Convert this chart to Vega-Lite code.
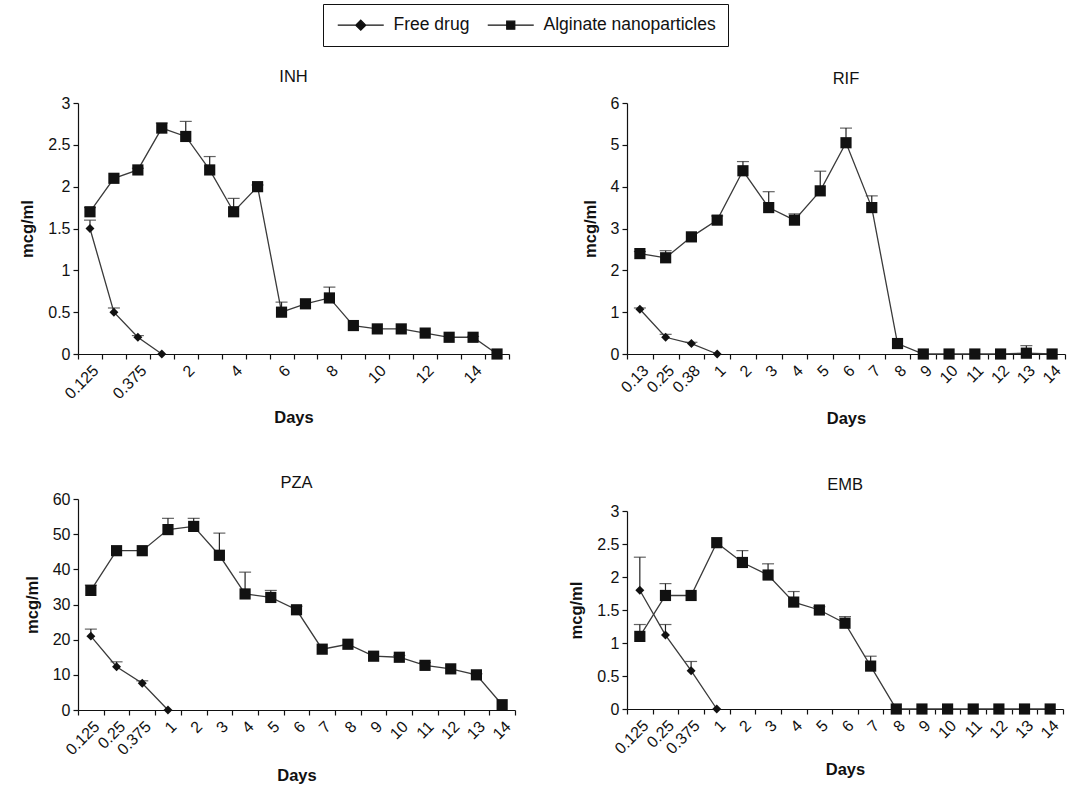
{
  "$schema": "https://vega.github.io/schema/vega-lite/v6.json",
  "background": "white",
  "padding": {"left": 19, "top": 3, "right": 5, "bottom": 5},
  "config": {
    "view": {"stroke": null},
    "font": "Liberation Sans",
    "axis": {"grid": false, "domainColor": "#111", "tickColor": "#111", "labelColor": "#111", "titleColor": "#111", "labelFont": "Liberation Sans", "labelFontSize": 16, "titleFont": "Liberation Sans", "titleFontSize": 16.5, "titleFontWeight": "bold", "tickSize": 5, "labelPadding": 3, "domainWidth": 1.2, "tickWidth": 1.2},
    "title": {"font": "Liberation Sans", "fontSize": 16.5, "fontWeight": "normal", "color": "#111", "anchor": "middle"},
    "legend": {"labelFont": "Liberation Sans", "labelFontSize": 17.5, "labelColor": "#111", "labelLimit": 400}
  },
  "data": {"values": [
    {"drug":"INH","group":"Alginate nanoparticles","day":"0.125","v":1.7,"hi":1.75},
    {"drug":"INH","group":"Alginate nanoparticles","day":"0.25","v":2.1,"hi":null},
    {"drug":"INH","group":"Alginate nanoparticles","day":"0.375","v":2.2,"hi":2.22},
    {"drug":"INH","group":"Alginate nanoparticles","day":"1","v":2.7,"hi":2.76},
    {"drug":"INH","group":"Alginate nanoparticles","day":"2","v":2.6,"hi":2.78},
    {"drug":"INH","group":"Alginate nanoparticles","day":"3","v":2.2,"hi":2.36},
    {"drug":"INH","group":"Alginate nanoparticles","day":"4","v":1.7,"hi":1.86},
    {"drug":"INH","group":"Alginate nanoparticles","day":"5","v":2.0,"hi":2.02},
    {"drug":"INH","group":"Alginate nanoparticles","day":"6","v":0.5,"hi":0.62},
    {"drug":"INH","group":"Alginate nanoparticles","day":"7","v":0.6,"hi":null},
    {"drug":"INH","group":"Alginate nanoparticles","day":"8","v":0.67,"hi":0.8},
    {"drug":"INH","group":"Alginate nanoparticles","day":"9","v":0.34,"hi":null},
    {"drug":"INH","group":"Alginate nanoparticles","day":"10","v":0.3,"hi":null},
    {"drug":"INH","group":"Alginate nanoparticles","day":"11","v":0.3,"hi":null},
    {"drug":"INH","group":"Alginate nanoparticles","day":"12","v":0.25,"hi":null},
    {"drug":"INH","group":"Alginate nanoparticles","day":"13","v":0.2,"hi":null},
    {"drug":"INH","group":"Alginate nanoparticles","day":"14","v":0.2,"hi":0.21},
    {"drug":"INH","group":"Alginate nanoparticles","day":"15","v":0.0,"hi":null},
    {"drug":"INH","group":"Free drug","day":"0.125","v":1.5,"hi":1.6},
    {"drug":"INH","group":"Free drug","day":"0.25","v":0.5,"hi":0.55},
    {"drug":"INH","group":"Free drug","day":"0.375","v":0.2,"hi":0.22},
    {"drug":"INH","group":"Free drug","day":"1","v":0.0,"hi":null},

    {"drug":"RIF","group":"Alginate nanoparticles","day":"0.13","v":2.4,"hi":2.45},
    {"drug":"RIF","group":"Alginate nanoparticles","day":"0.25","v":2.3,"hi":2.47},
    {"drug":"RIF","group":"Alginate nanoparticles","day":"0.38","v":2.8,"hi":null},
    {"drug":"RIF","group":"Alginate nanoparticles","day":"1","v":3.2,"hi":3.3},
    {"drug":"RIF","group":"Alginate nanoparticles","day":"2","v":4.38,"hi":4.6},
    {"drug":"RIF","group":"Alginate nanoparticles","day":"3","v":3.5,"hi":3.88},
    {"drug":"RIF","group":"Alginate nanoparticles","day":"4","v":3.2,"hi":3.35},
    {"drug":"RIF","group":"Alginate nanoparticles","day":"5","v":3.9,"hi":4.37},
    {"drug":"RIF","group":"Alginate nanoparticles","day":"6","v":5.05,"hi":5.4},
    {"drug":"RIF","group":"Alginate nanoparticles","day":"7","v":3.5,"hi":3.78},
    {"drug":"RIF","group":"Alginate nanoparticles","day":"8","v":0.25,"hi":null},
    {"drug":"RIF","group":"Alginate nanoparticles","day":"9","v":0.0,"hi":null},
    {"drug":"RIF","group":"Alginate nanoparticles","day":"10","v":0.0,"hi":null},
    {"drug":"RIF","group":"Alginate nanoparticles","day":"11","v":0.0,"hi":null},
    {"drug":"RIF","group":"Alginate nanoparticles","day":"12","v":0.0,"hi":null},
    {"drug":"RIF","group":"Alginate nanoparticles","day":"13","v":0.02,"hi":0.2},
    {"drug":"RIF","group":"Alginate nanoparticles","day":"14","v":0.0,"hi":null},
    {"drug":"RIF","group":"Free drug","day":"0.13","v":1.07,"hi":1.1},
    {"drug":"RIF","group":"Free drug","day":"0.25","v":0.4,"hi":0.47},
    {"drug":"RIF","group":"Free drug","day":"0.38","v":0.25,"hi":0.28},
    {"drug":"RIF","group":"Free drug","day":"1","v":0.0,"hi":null},

    {"drug":"PZA","group":"Alginate nanoparticles","day":"0.125","v":34,"hi":35.5},
    {"drug":"PZA","group":"Alginate nanoparticles","day":"0.25","v":45.3,"hi":null},
    {"drug":"PZA","group":"Alginate nanoparticles","day":"0.375","v":45.3,"hi":null},
    {"drug":"PZA","group":"Alginate nanoparticles","day":"1","v":51.3,"hi":54.5},
    {"drug":"PZA","group":"Alginate nanoparticles","day":"2","v":52.2,"hi":54.5},
    {"drug":"PZA","group":"Alginate nanoparticles","day":"3","v":44,"hi":50.3},
    {"drug":"PZA","group":"Alginate nanoparticles","day":"4","v":33,"hi":39.2},
    {"drug":"PZA","group":"Alginate nanoparticles","day":"5","v":32,"hi":34},
    {"drug":"PZA","group":"Alginate nanoparticles","day":"6","v":28.5,"hi":29.5},
    {"drug":"PZA","group":"Alginate nanoparticles","day":"7","v":17.3,"hi":null},
    {"drug":"PZA","group":"Alginate nanoparticles","day":"8","v":18.7,"hi":null},
    {"drug":"PZA","group":"Alginate nanoparticles","day":"9","v":15.3,"hi":null},
    {"drug":"PZA","group":"Alginate nanoparticles","day":"10","v":15,"hi":15.5},
    {"drug":"PZA","group":"Alginate nanoparticles","day":"11","v":12.7,"hi":13.5},
    {"drug":"PZA","group":"Alginate nanoparticles","day":"12","v":11.7,"hi":null},
    {"drug":"PZA","group":"Alginate nanoparticles","day":"13","v":10,"hi":10.3},
    {"drug":"PZA","group":"Alginate nanoparticles","day":"14","v":1.5,"hi":null},
    {"drug":"PZA","group":"Free drug","day":"0.125","v":21,"hi":23},
    {"drug":"PZA","group":"Free drug","day":"0.25","v":12.3,"hi":13.7},
    {"drug":"PZA","group":"Free drug","day":"0.375","v":7.6,"hi":8.3},
    {"drug":"PZA","group":"Free drug","day":"1","v":0,"hi":null},

    {"drug":"EMB","group":"Alginate nanoparticles","day":"0.125","v":1.1,"hi":1.28},
    {"drug":"EMB","group":"Alginate nanoparticles","day":"0.25","v":1.72,"hi":1.9},
    {"drug":"EMB","group":"Alginate nanoparticles","day":"0.375","v":1.72,"hi":null},
    {"drug":"EMB","group":"Alginate nanoparticles","day":"1","v":2.52,"hi":null},
    {"drug":"EMB","group":"Alginate nanoparticles","day":"2","v":2.22,"hi":2.4},
    {"drug":"EMB","group":"Alginate nanoparticles","day":"3","v":2.03,"hi":2.2},
    {"drug":"EMB","group":"Alginate nanoparticles","day":"4","v":1.62,"hi":1.78},
    {"drug":"EMB","group":"Alginate nanoparticles","day":"5","v":1.5,"hi":1.55},
    {"drug":"EMB","group":"Alginate nanoparticles","day":"6","v":1.3,"hi":1.4},
    {"drug":"EMB","group":"Alginate nanoparticles","day":"7","v":0.65,"hi":0.8},
    {"drug":"EMB","group":"Alginate nanoparticles","day":"8","v":0,"hi":null},
    {"drug":"EMB","group":"Alginate nanoparticles","day":"9","v":0,"hi":null},
    {"drug":"EMB","group":"Alginate nanoparticles","day":"10","v":0,"hi":null},
    {"drug":"EMB","group":"Alginate nanoparticles","day":"11","v":0,"hi":null},
    {"drug":"EMB","group":"Alginate nanoparticles","day":"12","v":0,"hi":null},
    {"drug":"EMB","group":"Alginate nanoparticles","day":"13","v":0,"hi":null},
    {"drug":"EMB","group":"Alginate nanoparticles","day":"14","v":0,"hi":null},
    {"drug":"EMB","group":"Free drug","day":"0.125","v":1.8,"hi":2.3},
    {"drug":"EMB","group":"Free drug","day":"0.25","v":1.12,"hi":1.28},
    {"drug":"EMB","group":"Free drug","day":"0.375","v":0.58,"hi":0.72},
    {"drug":"EMB","group":"Free drug","day":"1","v":0,"hi":null}
  ]},
  "hconcat": [
    {"vconcat": [
      {
        "title": {"text": "INH", "offset": 10},
        "width": 431, "height": 251,
        "transform": [{"filter": "datum.drug == 'INH'"}],
        "encoding": {
          "x": {"field": "day", "type": "ordinal", "title": "Days", "scale": {"domain": ["0.125","0.25","0.375","1","2","3","4","5","6","7","8","9","10","11","12","13","14","15"], "paddingInner": 0, "paddingOuter": 0},
            "axis": {"labelAngle": -45, "tickBand": "extent", "titlePadding": 8, "labelExpr": "indexof(['0.25','1','3','5','7','9','11','13','15'], datum.value) >= 0 ? '' : datum.label"}},
          "y": {"field": "v", "type": "quantitative", "title": "mcg/ml", "scale": {"domain": [0, 3], "nice": false}, "axis": {"values": [0,0.5,1,1.5,2,2.5,3], "format": "~r", "titlePadding": 12}}
        },
        "layer": [
          {"transform": [{"filter": "isValid(datum.hi)"}], "mark": {"type": "rule", "color": "#222", "strokeWidth": 1.2}, "encoding": {"y2": {"field": "hi"}}},
          {"transform": [{"filter": "isValid(datum.hi)"}], "mark": {"type": "tick", "color": "#222", "thickness": 1.2, "size": 12}, "encoding": {"y": {"field": "hi", "type": "quantitative"}}},
          {"mark": {"type": "line", "color": "#3a3a3a", "strokeWidth": 1.3}, "encoding": {"detail": {"field": "group"}}},
          {"transform": [{"filter": "datum.group == 'Free drug'"}], "mark": {"type": "point", "shape": "diamond", "filled": true, "color": "#111", "size": 80, "opacity": 1}},
          {"transform": [{"filter": "datum.group == 'Alginate nanoparticles'"}], "mark": {"type": "point", "shape": "square", "filled": true, "color": "#111", "size": 125, "opacity": 1}},
          {"transform": [{"filter": "false"}], "mark": {"type": "point", "filled": true, "color": "#111", "stroke": "#111", "strokeWidth": 1.3, "opacity": 1},
            "encoding": {"shape": {"field": "group", "type": "nominal",
              "scale": {"domain": ["Free drug", "Alginate nanoparticles"], "range": ["M-4.6,0H4.6M0,-1L1,0L0,1L-1,0Z", "M-4.6,0H4.6M-0.8,-0.8H0.8V0.8H-0.8Z"]},
              "legend": {"title": null, "orient": "none", "legendX": 245, "legendY": -99, "direction": "horizontal", "strokeColor": "#111", "padding": 12, "symbolSize": 100, "symbolOffset": 17, "labelOffset": 24, "columnPadding": 15, "symbolStrokeWidth": 1.3}}}}
        ]
      },
      {
        "title": {"text": "PZA", "offset": 0},
        "width": 437, "height": 211,
        "transform": [{"filter": "datum.drug == 'PZA'"}],
        "encoding": {
          "x": {"field": "day", "type": "ordinal", "title": "Days", "scale": {"domain": ["0.125","0.25","0.375","1","2","3","4","5","6","7","8","9","10","11","12","13","14"], "paddingInner": 0, "paddingOuter": 0},
            "axis": {"labelAngle": -45, "tickBand": "extent", "titlePadding": 10}},
          "y": {"field": "v", "type": "quantitative", "title": "mcg/ml", "scale": {"domain": [0, 60], "nice": false}, "axis": {"values": [0,10,20,30,40,50,60], "format": "~r", "titlePadding": 12}}
        },
        "layer": [
          {"transform": [{"filter": "isValid(datum.hi)"}], "mark": {"type": "rule", "color": "#222", "strokeWidth": 1.2}, "encoding": {"y2": {"field": "hi"}}},
          {"transform": [{"filter": "isValid(datum.hi)"}], "mark": {"type": "tick", "color": "#222", "thickness": 1.2, "size": 12}, "encoding": {"y": {"field": "hi", "type": "quantitative"}}},
          {"mark": {"type": "line", "color": "#3a3a3a", "strokeWidth": 1.3}, "encoding": {"detail": {"field": "group"}}},
          {"transform": [{"filter": "datum.group == 'Free drug'"}], "mark": {"type": "point", "shape": "diamond", "filled": true, "color": "#111", "size": 80, "opacity": 1}},
          {"transform": [{"filter": "datum.group == 'Alginate nanoparticles'"}], "mark": {"type": "point", "shape": "square", "filled": true, "color": "#111", "size": 125, "opacity": 1}}
        ]
      }
    ], "spacing": 47, "align": "none"},
    {"vconcat": [
      {
        "title": {"text": "RIF", "offset": 8},
        "width": 438, "height": 251,
        "transform": [{"filter": "datum.drug == 'RIF'"}],
        "encoding": {
          "x": {"field": "day", "type": "ordinal", "title": "Days", "scale": {"domain": ["0.13","0.25","0.38","1","2","3","4","5","6","7","8","9","10","11","12","13","14"], "paddingInner": 0, "paddingOuter": 0},
            "axis": {"labelAngle": -45, "tickBand": "extent", "titlePadding": 15}},
          "y": {"field": "v", "type": "quantitative", "title": "mcg/ml", "scale": {"domain": [0, 6], "nice": false}, "axis": {"values": [0,1,2,3,4,5,6], "format": "~r", "titlePadding": 12}}
        },
        "layer": [
          {"transform": [{"filter": "isValid(datum.hi)"}], "mark": {"type": "rule", "color": "#222", "strokeWidth": 1.2}, "encoding": {"y2": {"field": "hi"}}},
          {"transform": [{"filter": "isValid(datum.hi)"}], "mark": {"type": "tick", "color": "#222", "thickness": 1.2, "size": 12}, "encoding": {"y": {"field": "hi", "type": "quantitative"}}},
          {"mark": {"type": "line", "color": "#3a3a3a", "strokeWidth": 1.3}, "encoding": {"detail": {"field": "group"}}},
          {"transform": [{"filter": "datum.group == 'Free drug'"}], "mark": {"type": "point", "shape": "diamond", "filled": true, "color": "#111", "size": 80, "opacity": 1}},
          {"transform": [{"filter": "datum.group == 'Alginate nanoparticles'"}], "mark": {"type": "point", "shape": "square", "filled": true, "color": "#111", "size": 125, "opacity": 1}}
        ]
      },
      {
        "title": {"text": "EMB", "offset": 10},
        "width": 436, "height": 198,
        "transform": [{"filter": "datum.drug == 'EMB'"}],
        "encoding": {
          "x": {"field": "day", "type": "ordinal", "title": "Days", "scale": {"domain": ["0.125","0.25","0.375","1","2","3","4","5","6","7","8","9","10","11","12","13","14"], "paddingInner": 0, "paddingOuter": 0},
            "axis": {"labelAngle": -45, "tickBand": "extent", "titlePadding": 5}},
          "y": {"field": "v", "type": "quantitative", "title": "mcg/ml", "scale": {"domain": [0, 3], "nice": false}, "axis": {"values": [0,0.5,1,1.5,2,2.5,3], "format": "~r", "titlePadding": 12}}
        },
        "layer": [
          {"transform": [{"filter": "isValid(datum.hi)"}], "mark": {"type": "rule", "color": "#222", "strokeWidth": 1.2}, "encoding": {"y2": {"field": "hi"}}},
          {"transform": [{"filter": "isValid(datum.hi)"}], "mark": {"type": "tick", "color": "#222", "thickness": 1.2, "size": 12}, "encoding": {"y": {"field": "hi", "type": "quantitative"}}},
          {"mark": {"type": "line", "color": "#3a3a3a", "strokeWidth": 1.3}, "encoding": {"detail": {"field": "group"}}},
          {"transform": [{"filter": "datum.group == 'Free drug'"}], "mark": {"type": "point", "shape": "diamond", "filled": true, "color": "#111", "size": 80, "opacity": 1}},
          {"transform": [{"filter": "datum.group == 'Alginate nanoparticles'"}], "mark": {"type": "point", "shape": "square", "filled": true, "color": "#111", "size": 125, "opacity": 1}}
        ]
      }
    ], "spacing": 49, "align": "none"}
  ],
  "spacing": 52
}
